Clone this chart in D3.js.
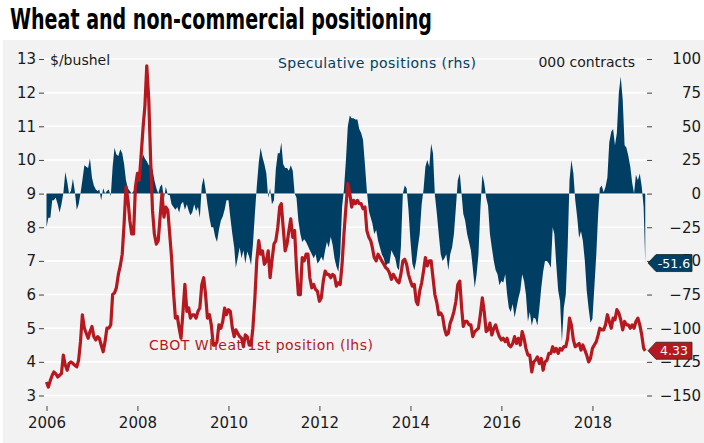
<!DOCTYPE html>
<html>
<head>
<meta charset="utf-8">
<script src="https://cdn.jsdelivr.net/npm/d3@7"></script>
<style>
  body { margin: 0; background: #fff; }
  text { font-family: "DejaVu Sans", sans-serif; fill: #1a1a1a; }
  .axis path.domain { display: none; }
  .axis line { stroke: #444; }
</style>
</head>
<body>
<div id="chart"></div>
<script>
// half-monthly readings (1st and 16th), Jan 2006 onwards
var priceVals = [
  3.4, 3.25, 3.45, 3.6, 3.7, 3.65, 3.55, 3.6, 3.65, 4.2,
  3.9, 3.75, 3.95, 4.0, 3.95, 3.9, 3.85, 4.05, 4.6, 5.4,
  5.0, 4.85, 4.7, 4.9, 5.05, 4.75, 4.65, 4.75, 4.7, 4.5,
  4.3, 4.6, 5.0, 5.0, 5.1, 6.0, 6.05, 6.2, 6.6, 6.85,
  7.2, 8.1, 9.2, 8.85, 8.2, 7.8, 7.8, 9.2, 9.6, 9.4,
  10.2, 11.0, 11.6, 12.8, 11.8, 10.0, 8.5, 7.8, 7.5, 7.6,
  8.3, 9.0, 8.3, 8.6, 8.5, 7.8, 7.1, 6.1, 5.3, 5.35,
  5.0, 4.7, 5.5, 6.3, 5.5, 5.6, 5.3, 5.4, 5.4, 5.3,
  5.5, 5.6, 6.3, 6.5, 6.0, 5.3, 5.4, 5.1, 4.5, 4.5,
  4.6, 5.1, 5.0, 5.2, 5.6, 5.4, 5.55, 5.5, 5.0, 4.75,
  4.95, 4.85, 4.75, 4.7, 4.45, 4.8, 4.75, 4.5, 4.5, 5.0,
  5.9, 7.0, 7.6, 7.2, 7.3, 6.9, 7.0, 7.3, 6.5, 7.0,
  7.5, 7.6, 8.0, 8.6, 8.7, 8.0, 7.3, 7.5, 7.9, 8.25,
  7.7, 7.9, 6.8, 6.0, 6.0, 7.1, 7.0, 7.2, 7.2, 6.5,
  6.2, 6.3, 6.15, 6.1, 5.8, 5.9, 6.4, 6.7, 6.6, 6.6,
  6.5, 6.6, 6.55, 6.25, 6.35, 6.3, 6.9, 7.8, 8.6, 9.3,
  9.0, 8.6, 8.8, 8.7, 8.8, 8.7, 8.7, 8.55, 8.6, 7.9,
  7.7, 7.6, 7.4, 7.1, 7.0, 7.2, 7.1, 7.0, 6.9, 6.8,
  6.75, 6.65, 6.45, 6.6, 6.5, 6.4, 6.35, 6.6, 7.0, 7.05,
  6.9, 6.6, 6.4, 6.25, 6.3, 5.8, 5.7, 6.1, 6.35, 6.7,
  7.1, 6.85, 7.0, 7.0, 6.5, 6.0, 5.75, 5.4, 5.45, 5.35,
  5.0, 4.8, 4.85, 5.15, 5.3, 5.5, 5.8, 6.3, 6.4, 5.6,
  5.05, 5.2, 5.2, 5.1, 5.1, 4.75, 4.9, 4.95, 5.0, 5.4,
  5.9, 5.5, 4.9, 4.95, 5.15, 4.8, 5.0, 5.1, 4.9, 4.75,
  4.65, 4.7, 4.6, 4.7, 4.5, 4.45, 4.55, 4.75, 4.55, 4.7,
  4.5, 4.9, 4.7, 4.4, 4.2, 4.2, 3.7, 4.0, 4.05, 4.15,
  3.95, 4.1, 3.75, 4.0, 4.05, 4.25, 4.25, 4.45, 4.3, 4.4,
  4.25, 4.4, 4.35, 4.45, 4.45, 4.7, 5.3, 5.1, 4.65, 4.45,
  4.5, 4.55, 4.35, 4.5, 4.35, 4.2, 4.0, 4.1, 4.4, 4.5,
  4.6, 4.8, 5.0, 4.95, 4.95, 5.1, 5.4, 5.2, 5.0, 5.3,
  5.25, 5.55, 5.45, 5.25, 4.95, 5.2, 5.1, 5.1, 5.0, 5.1,
  5.0, 5.2, 5.3, 5.1, 4.8, 4.4, 4.33
];

var posVals = [
  -25, -18, -18, -5, -5, -3, -8, -14, -8, 0,
  16, 9, 0, 2, 11, 2, -12, -8, 0, 10,
  21, 20, 19, 26, 12, 6, 3, 2, 3, -5,
  4, 0, 2, 3, -2, 20, 34, 29, 28, 33,
  30, 22, 10, 4, 2, 0, 2, 5, 10, 18,
  24, 29, 26, 24, 21, 21, 18, 10, 4, 0,
  5, 7, -4, 5, -1, -1, -8, -10, -12, -10,
  -14, -8, -6, -12, -8, -13, -16, -14, -8, -13,
  -10, -18, 6, 12, 3, -8, -18, -25, -25, -32,
  -36, -27, -20, -17, -12, -5, -5, -18, -30, -40,
  -55, -48, -40, -48, -42, -52, -43, -47, -53, -38,
  -15, 5, 23, 34, 27, 22, 15, -3, 4, -8,
  -5, 18, 30, 30, 38, 22, 19, 19, 17, 21,
  17, 0, -3, -20, -30, -36, -34, -36, -39, -42,
  -45, -48, -45, -52, -50, -47, -50, -42, -36, -40,
  -32, -38, -48, -54, -58, -45, -10, 3, 25, 50,
  58, 56, 56, 55, 55, 48, 45, 40, 21, 2,
  -13, -18, -22, -30, -27, -35, -40, -45, -48, -54,
  -52, -52, -42, -45, -48, -55, -57, -40, 0, 6,
  4, -12, -35, -52, -57, -50, -40, -30, -8, 3,
  20, 25, 20, 37, 30, -1, -15, -30, -45, -50,
  -48, -45, -57, -45, -40, -30, -10, 10, 15, -1,
  -15, -20, -30, -36, -42, -55, -70, -60, -45, -12,
  14, 8, -3, -9, -30, -40, -50, -57, -60, -68,
  -65, -66, -60, -75, -85, -88, -82, -92, -85, -78,
  -72, -60, -65, -75, -95, -88, -98, -92, -93, -98,
  -85, -70, -58, -50, -50, -52, -55, -25, -30, -52,
  -72, -80, -110, -85, -75, -40, 10, 25, 15, -5,
  -18, -33, -28, -35, -50, -72, -85, -96, -93, -70,
  -45, -15, 4, 6, 1, 5, 12, 38, 46, 48,
  36, 45, 75, 87, 70, 36, 34, 28, 20, 8,
  0, 14, 10, 15, 5, -10, -51.6
];

var leftTicks  = [3, 4, 5, 6, 7, 8, 9, 10, 11, 12, 13];
var rightTicks = [-150, -125, -100, -75, -50, -25, 0, 25, 50, 75, 100];
var yearTicks  = [2006, 2008, 2010, 2012, 2014, 2016, 2018];

var blue = '#003f63';
var red  = '#b5181f';

var W = 704, H = 443;

function halfMonth(i) {
  return new Date(2006, Math.floor(i / 2), i % 2 ? 16 : 1);
}

var svg = d3.select('#chart').append('svg')
  .attr('width', W)
  .attr('height', H);

// panel
svg.append('rect')
  .attr('x', 3).attr('y', 40)
  .attr('width', W - 3).attr('height', H - 40)
  .attr('fill', '#f2f2f2');

var x = d3.scaleTime()
  .domain([new Date(2006, 0, 1), new Date(2019, 2, 15)])
  .range([46.5, 647]);

var yL = d3.scaleLinear().domain([3, 13]).range([395.5, 59]);
var yR = d3.scaleLinear().domain([-150, 100]).range([395.5, 59]);

var priceData = priceVals.map(function(v, i) { return {date: halfMonth(i), v: v}; });
var posData = posVals.map(function(v, i) { return {date: halfMonth(i), v: v}; });

// gridlines
svg.append('g').selectAll('line')
  .data(leftTicks)
.enter().append('line')
  .attr('x1', 44).attr('x2', 648)
  .attr('y1', function(d) { return yL(d); })
  .attr('y2', function(d) { return yL(d); })
  .attr('stroke', '#fff')
  .attr('stroke-width', 1.6);

// axes
svg.append('g')
  .attr('class', 'axis')
  .attr('transform', 'translate(44,0)')
  .call(d3.axisLeft(yL).tickValues(leftTicks).tickSize(5).tickPadding(3));

var axR = svg.append('g')
  .attr('class', 'axis')
  .attr('transform', 'translate(647,0)')
  .call(d3.axisRight(yR).tickValues(rightTicks).tickSize(5));
axR.selectAll('text').attr('x', 54).style('text-anchor', 'end');

svg.append('g')
  .attr('class', 'axis')
  .attr('transform', 'translate(0,406)')
  .call(d3.axisBottom(x)
    .tickValues(yearTicks.map(function(y) { return new Date(y, 0, 1); }))
    .tickFormat(d3.timeFormat('%Y'))
    .tickSize(5).tickPadding(6));

svg.selectAll('.axis text')
  .style('font-size', '15px')
  .style('fill', '#1a1a1a');

// speculative positions area
var area = d3.area()
  .x(function(d) { return x(d.date); })
  .y0(yR(0))
  .y1(function(d) { return yR(d.v); });

svg.append('path')
  .datum(posData)
  .attr('d', area)
  .attr('fill', blue);

// wheat price line
var line = d3.line()
  .x(function(d) { return x(d.date); })
  .y(function(d) { return yL(d.v); });

svg.append('path')
  .datum(priceData)
  .attr('d', line)
  .attr('fill', 'none')
  .attr('stroke', red)
  .attr('stroke-width', 3.2)
  .attr('stroke-linejoin', 'round');

// labels
svg.append('text')
  .attr('x', 10).attr('y', 29)
  .attr('textLength', 422)
  .attr('lengthAdjust', 'spacingAndGlyphs')
  .style('font-family', '"Liberation Sans Narrow", "DejaVu Sans Condensed", sans-serif')
  .style('font-weight', 'bold')
  .style('font-size', '28px')
  .style('fill', '#000')
  .text('Wheat and non-commercial positioning');

svg.append('text')
  .attr('x', 50).attr('y', 65)
  .style('font-size', '14px')
  .text('$/bushel');

svg.append('text')
  .attr('x', 278).attr('y', 68)
  .attr('textLength', 198)
  .style('font-size', '14px')
  .style('fill', blue)
  .text('Speculative positions (rhs)');

svg.append('text')
  .attr('x', 635).attr('y', 67)
  .style('text-anchor', 'end')
  .style('font-size', '14px')
  .text('000 contracts');

svg.append('text')
  .attr('x', 149).attr('y', 350)
  .attr('textLength', 224)
  .style('font-size', '14px')
  .style('fill', red)
  .text('CBOT Wheat 1st position (lhs)');

// end value tags
function endTag(yPos, label, col) {
  var g = svg.append('g').attr('transform', 'translate(648,' + yPos + ')');
  g.append('path')
    .attr('d', 'M0,0 L8,-8.5 L44,-8.5 L44,8.5 L8,8.5 Z')
    .attr('fill', col)
    .attr('stroke', '#222')
    .attr('stroke-width', 0.8);
  g.append('text')
    .attr('x', 26).attr('y', 4.5)
    .style('text-anchor', 'middle')
    .style('font-size', '12.5px')
    .style('fill', '#fff')
    .text(label);
}

endTag(yR(posVals[posVals.length - 1]), '-51.6', blue);
endTag(yL(priceVals[priceVals.length - 1]), '4.33', red);
</script>
</body>
</html>
